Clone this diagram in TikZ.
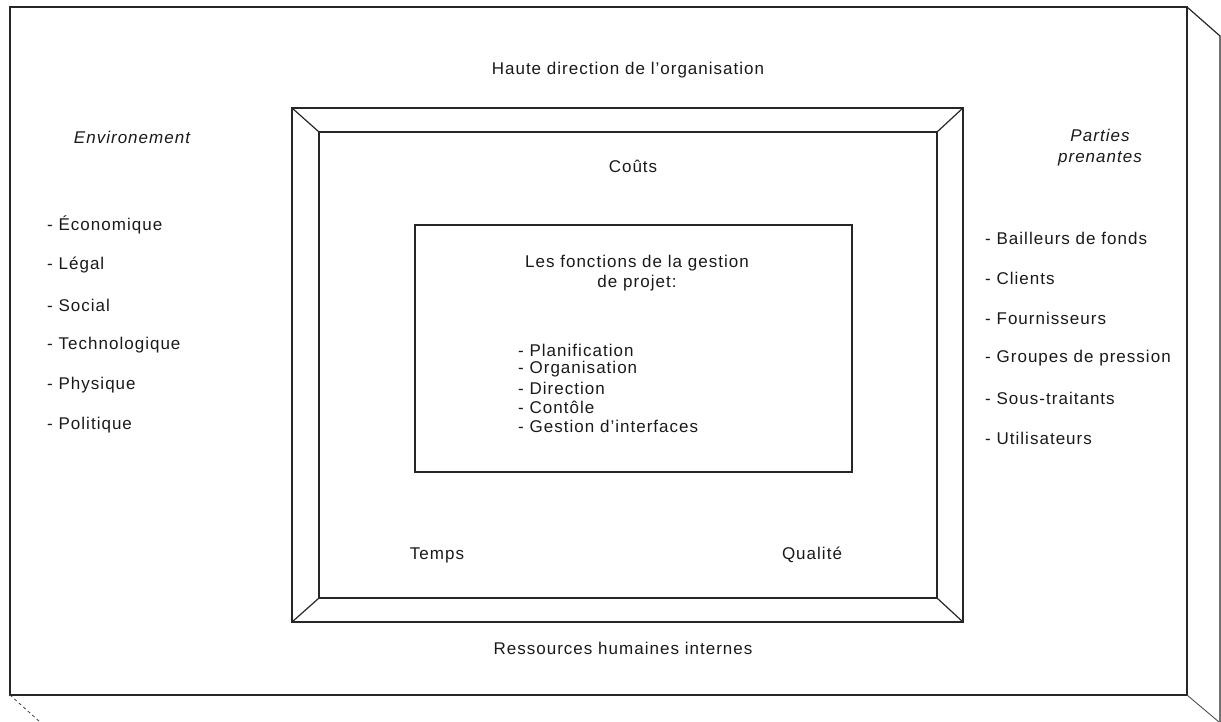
\documentclass[tikz,border=0pt]{standalone}
\usepackage{fontspec}
\setmainfont[LetterSpace=6]{Liberation Sans}
\begin{document}
\begin{tikzpicture}[x=1pt,y=-1pt,
  edge/.style={draw=black!85,line width=1.2pt},
  thinedge/.style={draw=black!75,line width=0.8pt},
  lbl/.style={font=\fontsize{17}{20}\selectfont,text=black!90,inner sep=0pt},
  item/.style={lbl,anchor=west},
  side/.style={lbl,font=\fontsize{17}{21}\selectfont\itshape,align=center}]
\useasboundingbox (0,0) rectangle (1221,722);

% outer box: front face and depth edges
\coordinate (oTL) at (10,7);
\coordinate (oTR) at (1187,7);
\coordinate (oBR) at (1187,695);
\coordinate (oBL) at (10,695);
\coordinate (dTR) at (1220,36);
\coordinate (dBR) at (1220,722);
\coordinate (dB) at (1219,722);
\coordinate (dBL) at (40,722);
\draw[edge] (oTL) rectangle (oBR);
\draw[edge] (oTR) -- (dTR) -- (dBR);
\draw[thinedge] (oBR) -- (dB);
\draw[thinedge,dashed] (oBL) -- (dBL);

% bevelled frame
\coordinate (fTL) at (292,108);
\coordinate (fTR) at (963,108);
\coordinate (fBR) at (963,622);
\coordinate (fBL) at (292,622);
\coordinate (iTL) at (319,132);
\coordinate (iTR) at (937,132);
\coordinate (iBR) at (937,598);
\coordinate (iBL) at (319,598);
\draw[edge] (fTL) rectangle (fBR);
\draw[edge] (iTL) rectangle (iBR);
\draw[edge] (fTL) -- (iTL) (fTR) -- (iTR) (fBR) -- (iBR) (fBL) -- (iBL);

% central box
\node[draw=black!85,line width=1.2pt,minimum width=437pt,minimum height=247pt,
      inner sep=0pt] (core) at (633.5,348.5) {};

% texts
\node[lbl] (haute) at (628,70) {Haute direction de l'organisation};
\node[lbl] (rh) at (623,648) {Ressources humaines internes};
\node[lbl] (couts) at (633,166) {Coûts};
\node[lbl] (temps) at (437,555) {Temps};
\node[lbl] (qualite) at (812,555) {Qualité};

\node[side] (env) at (132,137) {Environement};
\node[side] (parties) at (1100,148) {Parties\\prenantes};

\node[lbl,align=center] (titre) at (637,273) {Les fonctions de la gestion\\de projet:};
\node[item] (f1) at (518,350) {- Planification};
\node[item] (f2) at (518,369) {- Organisation};
\node[item] (f3) at (518,388) {- Direction};
\node[item] (f4) at (518,407) {- Contôle};
\node[item] (f5) at (518,426) {- Gestion d'interfaces};

\node[item] (e1) at (47,225) {- Économique};
\node[item] (e2) at (47,265) {- Légal};
\node[item] (e3) at (47,305) {- Social};
\node[item] (e4) at (47,345) {- Technologique};
\node[item] (e5) at (47,385) {- Physique};
\node[item] (e6) at (47,425) {- Politique};

\node[item] (p1) at (985,238) {- Bailleurs de fonds};
\node[item] (p2) at (985,278) {- Clients};
\node[item] (p3) at (985,318) {- Fournisseurs};
\node[item] (p4) at (985,358) {- Groupes de pression};
\node[item] (p5) at (985,398) {- Sous-traitants};
\node[item] (p6) at (985,438) {- Utilisateurs};
\end{tikzpicture}
\end{document}
